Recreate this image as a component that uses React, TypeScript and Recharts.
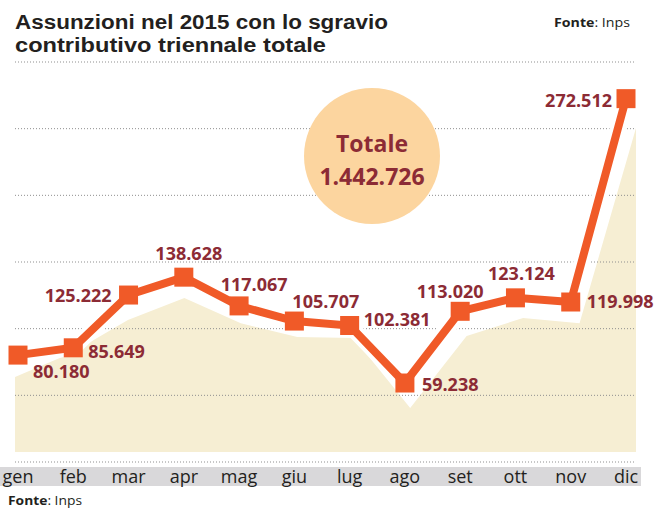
import { ComposedChart, Line, Area, XAxis, YAxis, CartesianGrid, LabelList } from "recharts"

const MESI = ["gen", "feb", "mar", "apr", "mag", "giu", "lug", "ago", "set", "ott", "nov", "dic"]

// assunzioni mensili (Inps)
const ASSUNZIONI = [80180, 85649, 125222, 138628, 117067, 105707, 102381, 59238, 113020, 123124, 119998, 272512]

// sagoma beige dietro la linea
const SFONDO = [63800, 81800, 106500, 123000, 104000, 93800, 93000, 40500, 94500, 108000, 104000, 250500]

const Y_TICKS = [0, 50000, 100000, 150000, 200000, 250000, 300000]

const data = MESI.map((mese, i) => ({
  mese,
  assunzioni: ASSUNZIONI[i],
  sfondo: SFONDO[i],
}))

const totale = ASSUNZIONI.reduce((a, b) => a + b, 0)

const fmt = (n: number) => String(n).replace(/\B(?=(\d{3})+(?!\d))/g, ".")

const ARANCIO = "#F05A28"
const BORDEAUX = "#8C2B35"
const FONT = "'Open Sans', sans-serif"

// posizione di ogni etichetta rispetto al suo punto
const POS_ETICHETTE: { dx: number; dy: number; anchor: "start" | "middle" | "end" }[] = [
  { dx: 15, dy: 23, anchor: "start" },
  { dx: 15, dy: 10, anchor: "start" },
  { dx: -17, dy: 7, anchor: "end" },
  { dx: 5, dy: -17, anchor: "middle" },
  { dx: 15, dy: -15, anchor: "middle" },
  { dx: -2, dy: -13, anchor: "start" },
  { dx: 14, dy: 1, anchor: "start" },
  { dx: 17, dy: 8, anchor: "start" },
  { dx: -10, dy: -13, anchor: "middle" },
  { dx: 6, dy: -18, anchor: "middle" },
  { dx: 16, dy: 6, anchor: "start" },
  { dx: -14, dy: 8, anchor: "end" },
]

const Quadrato = (props: any) => {
  const { cx, cy, index } = props
  return <rect key={index} x={cx - 9.5} y={cy - 9.5} width={19} height={19} fill={ARANCIO} />
}

const Etichetta = (props: any) => {
  const { x, y, index, value } = props
  const p = POS_ETICHETTE[index]
  return (
    <text
      x={x + p.dx}
      y={y + p.dy}
      textAnchor={p.anchor}
      fill={BORDEAUX}
      fontFamily={FONT}
      fontWeight={700}
      fontSize={18}
    >
      {fmt(value)}
    </text>
  )
}

const TickMese = (props: any) => {
  const { x, y, payload } = props
  return (
    <text x={x} y={y} dy={21} textAnchor="middle" fill="#231F20" fontFamily={FONT} fontSize={18}>
      {payload.value}
    </text>
  )
}

export default function App() {
  return (
    <div style={{ position: "absolute", left: 0, top: 0, width: 655, height: 517, background: "#fff", overflow: "hidden" }}>
      <div style={{ position: "absolute", left: 0, top: 467, width: 641, height: 19, background: "#D9D8DA" }} />

      <div style={{ position: "absolute", left: 0, top: 0 }}>
        <ComposedChart width={655} height={517} data={data} margin={{ top: 62, right: 19, bottom: 30, left: 15 }}>
          <XAxis
            dataKey="mese"
            axisLine={false}
            tickLine={false}
            tickSize={0}
            tickMargin={0}
            height={25}
            padding={{ left: 3, right: 10 }}
            tick={<TickMese />}
            interval={0}
          />
          <XAxis dataKey="mese" xAxisId="sfondo" hide />
          <YAxis hide domain={[0, 300000]} ticks={Y_TICKS} />

          <Area
            xAxisId="sfondo"
            dataKey="sfondo"
            type="linear"
            stroke="none"
            fill="#F6EED3"
            fillOpacity={1}
            baseValue={7500}
            isAnimationActive={false}
          />

          <CartesianGrid vertical={false} stroke="#8f8f8f" strokeDasharray="1 2" zIndex={150} />

          <Line
            dataKey="assunzioni"
            type="linear"
            stroke="#ffffff"
            strokeWidth={16}
            strokeLinejoin="round"
            dot={false}
            activeDot={false}
            isAnimationActive={false}
          />
          <Line
            dataKey="assunzioni"
            type="linear"
            stroke={ARANCIO}
            strokeWidth={8}
            dot={<Quadrato />}
            activeDot={false}
            isAnimationActive={false}
          >
            <LabelList dataKey="assunzioni" content={<Etichetta />} />
          </Line>
        </ComposedChart>
      </div>

      <svg width={655} height={517} style={{ position: "absolute", left: 0, top: 0, pointerEvents: "none" }}>
        <g fill="#231F20">
          <text x={15} y={28.5} fontFamily="'Liberation Sans', sans-serif" fontSize={20} fontWeight={700} textLength={373} lengthAdjust="spacingAndGlyphs">
            Assunzioni nel 2015 con lo sgravio
          </text>
          <text x={15} y={51.5} fontFamily="'Liberation Sans', sans-serif" fontSize={20} fontWeight={700} textLength={311} lengthAdjust="spacingAndGlyphs">
            contributivo triennale totale
          </text>
          <text x={554} y={27} fontFamily={FONT} fontSize={13} textLength={76} lengthAdjust="spacingAndGlyphs">
            <tspan fontWeight={700}>Fonte</tspan>: Inps
          </text>
          <text x={8} y={505} fontFamily={FONT} fontSize={13} textLength={74} lengthAdjust="spacingAndGlyphs">
            <tspan fontWeight={700}>Fonte</tspan>: Inps
          </text>
        </g>

        <circle cx={372} cy={156} r={68} fill="#FCD59F" />
        <g fontFamily={FONT} fontWeight={700} fill={BORDEAUX} textAnchor="middle">
          <text x={372} y={152} fontSize={23}>
            Totale
          </text>
          <text x={372} y={185} fontSize={23}>
            {fmt(totale)}
          </text>
        </g>
      </svg>
    </div>
  )
}
